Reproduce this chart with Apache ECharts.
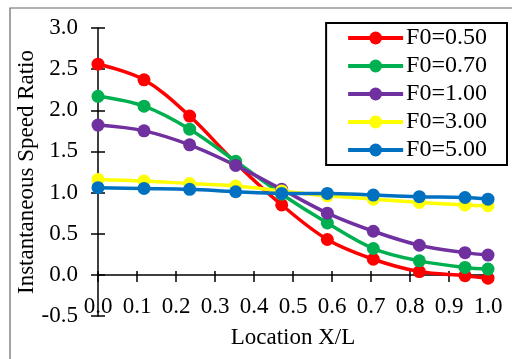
<!DOCTYPE html>
<html><head><meta charset="utf-8">
<script src="https://cdn.jsdelivr.net/npm/echarts@6/dist/echarts.min.js"></script>
<style>html,body{margin:0;padding:0;background:#fff}#c{width:512px;height:359px}</style>
</head><body><div id="c"></div>
<script>
const xPos = [0, 0.118, 0.235, 0.353, 0.471, 0.588, 0.706, 0.824, 0.941, 1.0];
const seriesNames = ['F0=0.50', 'F0=0.70', 'F0=1.00', 'F0=3.00', 'F0=5.00'];
const f050 = [2.56, 2.37, 1.93, 1.36, 0.85, 0.43, 0.19, 0.04, -0.01, -0.04];
const f070 = [2.17, 2.05, 1.77, 1.38, 0.98, 0.63, 0.32, 0.17, 0.09, 0.07];
const f100 = [1.82, 1.75, 1.58, 1.33, 1.04, 0.75, 0.53, 0.36, 0.27, 0.24];
const f300 = [1.16, 1.14, 1.11, 1.08, 1.02, 0.96, 0.92, 0.88, 0.85, 0.84];
const f500 = [1.06, 1.05, 1.04, 1.01, 0.99, 0.99, 0.97, 0.95, 0.94, 0.92];
const colors = ['#FF0000', '#00B050', '#7030A0', '#FFFF00', '#0070C0'];
const xTicks = {min: 0, max: 1, interval: 0.1};
const yTicks = {min: -0.5, max: 3.0, interval: 0.5};

const FONT = "'Liberation Serif','Times New Roman',serif";
const FS = 23;
const all = [f050, f070, f100, f300, f500];
const chart = echarts.init(document.getElementById('c'), null, {renderer: 'canvas'});
const mk = (vals) => xPos.map((x, i) => [x, vals[i]]);
const axisBaseX = {type: 'value', min: xTicks.min, max: xTicks.max, interval: xTicks.interval, splitLine: {show: false}};
const axisBaseY = {type: 'value', min: yTicks.min, max: yTicks.max, interval: yTicks.interval, splitLine: {show: false}};
chart.setOption({
  animation: false,
  color: colors,
  textStyle: {fontFamily: FONT},
  graphic: [{type: 'rect', shape: {x: 10, y: 8, width: 560, height: 400}, style: {fill: 'none', stroke: '#666', lineWidth: 1.2}, silent: true}],
  grid: [
    {left: 98, right: 24, top: 28, bottom: 43, containLabel: false, outerBoundsMode: 'none'},
    {left: 98, right: 24, top: 28, bottom: 84, containLabel: false, outerBoundsMode: 'none'}
  ],
  legend: {
    orient: 'vertical', right: 5, top: 23,
    backgroundColor: '#fff', borderColor: '#000', borderWidth: 2,
    padding: [3, 20, 3, 20], itemGap: 4, itemWidth: 55, itemHeight: 16,
    lineStyle: {width: 4},
    textStyle: {fontFamily: FONT, fontSize: 24, color: '#000', lineHeight: 22, padding: [0, 0, 0, -2]},
    data: seriesNames
  },
  xAxis: [
    Object.assign({}, axisBaseX, {
      gridIndex: 1, position: 'bottom',
      name: 'Location X/L', nameLocation: 'middle', nameGap: 51, nameMoveOverlap: false,
      nameTextStyle: {fontFamily: FONT, fontSize: FS, color: '#000'},
      axisLine: {onZero: false, lineStyle: {color: '#000', width: 1.5}},
      axisTick: {show: true, inside: false, length: 7, lineStyle: {color: '#000', width: 1.5}},
      axisLabel: {fontFamily: FONT, fontSize: FS, color: '#000', margin: 20, formatter: v => v.toFixed(1)}
    }),
    Object.assign({}, axisBaseX, {
      gridIndex: 1, position: 'bottom',
      axisLine: {show: false, onZero: false},
      axisTick: {show: true, inside: true, length: 4, lineStyle: {color: '#000', width: 1.5}},
      axisLabel: {show: false}
    }),
    Object.assign({}, axisBaseX, {
      gridIndex: 0, position: 'bottom', show: false
    })
  ],
  yAxis: [
    Object.assign({}, axisBaseY, {
      gridIndex: 0, position: 'left',
      name: 'Instantaneous Speed Ratio', nameLocation: 'middle', nameGap: 60, nameRotate: 90, nameMoveOverlap: false,
      nameTextStyle: {fontFamily: FONT, fontSize: FS, color: '#000'},
      axisLine: {show: true, onZero: false, lineStyle: {color: '#000', width: 1.5}},
      axisTick: {show: true, inside: false, length: 7, lineStyle: {color: '#000', width: 1.5}},
      axisLabel: {fontFamily: FONT, fontSize: FS, color: '#000', margin: 20, formatter: v => v.toFixed(1)}
    }),
    Object.assign({}, axisBaseY, {
      gridIndex: 0, position: 'left',
      axisLine: {show: false, onZero: false},
      axisTick: {show: true, inside: true, length: 7, lineStyle: {color: '#000', width: 1.5}},
      axisLabel: {show: false}
    }),
    {type: 'value', gridIndex: 1, min: 0, max: 1, show: false}
  ],
  series: all.map((vals, i) => ({
    name: seriesNames[i], type: 'line', xAxisIndex: 2, yAxisIndex: 0,
    data: mk(vals), smooth: 0.35,
    symbol: 'circle', symbolSize: 13,
    lineStyle: {width: 3.5, color: colors[i]},
    itemStyle: {color: colors[i]}
  }))
});
</script></body></html>
